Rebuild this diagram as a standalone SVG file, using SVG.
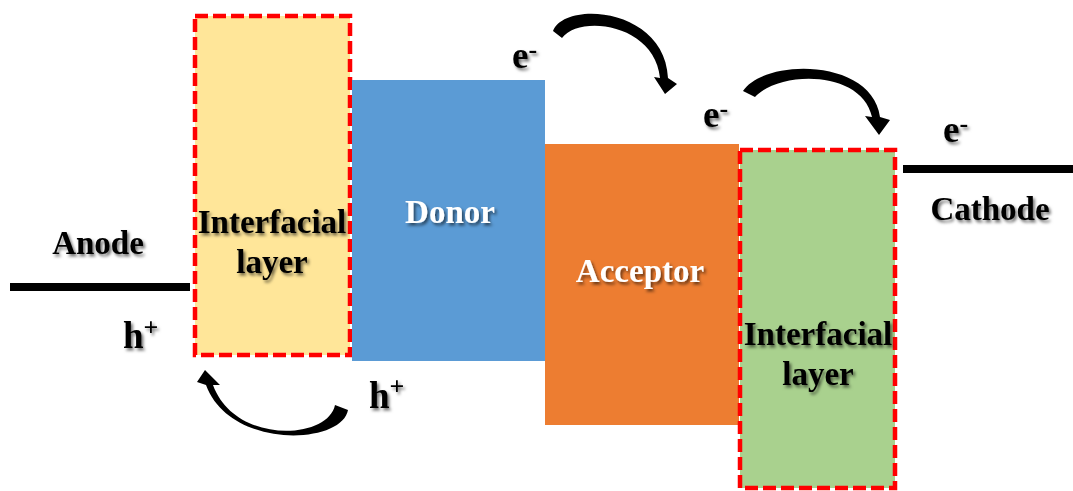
<svg xmlns="http://www.w3.org/2000/svg" width="1073" height="491" viewBox="0 0 1073 491">
  <defs>
    <filter id="shadow" x="-20%" y="-30%" width="140%" height="160%">
      <feDropShadow dx="2" dy="2.5" stdDeviation="1.5" flood-color="#000" flood-opacity="0.55"/>
    </filter>
    <style>
      .lbl { font-family: "Liberation Serif", "Times New Roman", serif; font-weight: bold; font-size: 33px; filter: url(#shadow); }
      .dark { fill: #000; }
      .light { fill: #fff; }
      .carrier { font-family: "Liberation Serif", "Times New Roman", serif; font-weight: bold; font-size: 37px; fill: #000; filter: url(#shadow); }
      .sup { font-size: 26px; }
      .dash { stroke: #ff0000; stroke-width: 4.5; stroke-dasharray: 13 5; }
      .electrode { stroke: #000; stroke-width: 8; }
      .arrow { fill: #000; }
    </style>
  </defs>
  <rect width="1073" height="491" fill="#fff"/>

  <g id="anode">
    <line class="electrode" x1="10" y1="287" x2="190" y2="287"/>
    <text class="lbl dark" x="98" y="254" text-anchor="middle">Anode</text>
  </g>

  <g id="interfacial-layer-left">
    <rect x="195" y="16" width="155" height="339" fill="#ffe699" class="dash"/>
    <text class="lbl dark" x="272" y="233" text-anchor="middle">Interfacial</text>
    <text class="lbl dark" x="272" y="273" text-anchor="middle">layer</text>
  </g>

  <g id="donor">
    <rect x="352" y="80" width="193" height="281" fill="#5b9bd5"/>
    <text class="lbl light" x="450" y="223" text-anchor="middle">Donor</text>
  </g>

  <g id="acceptor">
    <rect x="545" y="144" width="194" height="281" fill="#ed7d31"/>
    <text class="lbl light" x="640" y="282" text-anchor="middle">Acceptor</text>
  </g>

  <g id="interfacial-layer-right">
    <rect x="740" y="150" width="155" height="338" fill="#a9d18e" class="dash"/>
    <text class="lbl dark" x="818" y="345" text-anchor="middle">Interfacial</text>
    <text class="lbl dark" x="818" y="385" text-anchor="middle">layer</text>
  </g>

  <g id="cathode">
    <line class="electrode" x1="903" y1="169" x2="1073" y2="169"/>
    <text class="lbl dark" x="990" y="220" text-anchor="middle">Cathode</text>
  </g>

  <g id="carriers">
    <text class="carrier" x="123" y="348">h<tspan class="sup" dy="-12">+</tspan></text>
    <text class="carrier" x="369" y="408">h<tspan class="sup" dy="-13">+</tspan></text>
    <text class="carrier" x="512" y="68">e<tspan class="sup" dy="-10">-</tspan></text>
    <text class="carrier" x="703" y="127">e<tspan class="sup" dy="-10">-</tspan></text>
    <text class="carrier" x="943" y="142">e<tspan class="sup" dy="-10">-</tspan></text>
  </g>

  <g id="connectors">
    <path class="arrow" d="M553,31 C565,0 665,8 668,78 L677,84 L665,94 L654,77 L660,78 C655,24 580,14 562,38 Z"/>
    <path class="arrow" d="M743,91 C765,58 872,58 880,117 L890,120 L879,135 L865,116 L872,117 C862,70 780,70 755,97 Z"/>
    <path class="arrow" d="M348,410 C342,445 230,450 206,385 L197,382 L205,370 L220,385 L213,385 C235,445 328,440 335,405 Z"/>
  </g>
</svg>
